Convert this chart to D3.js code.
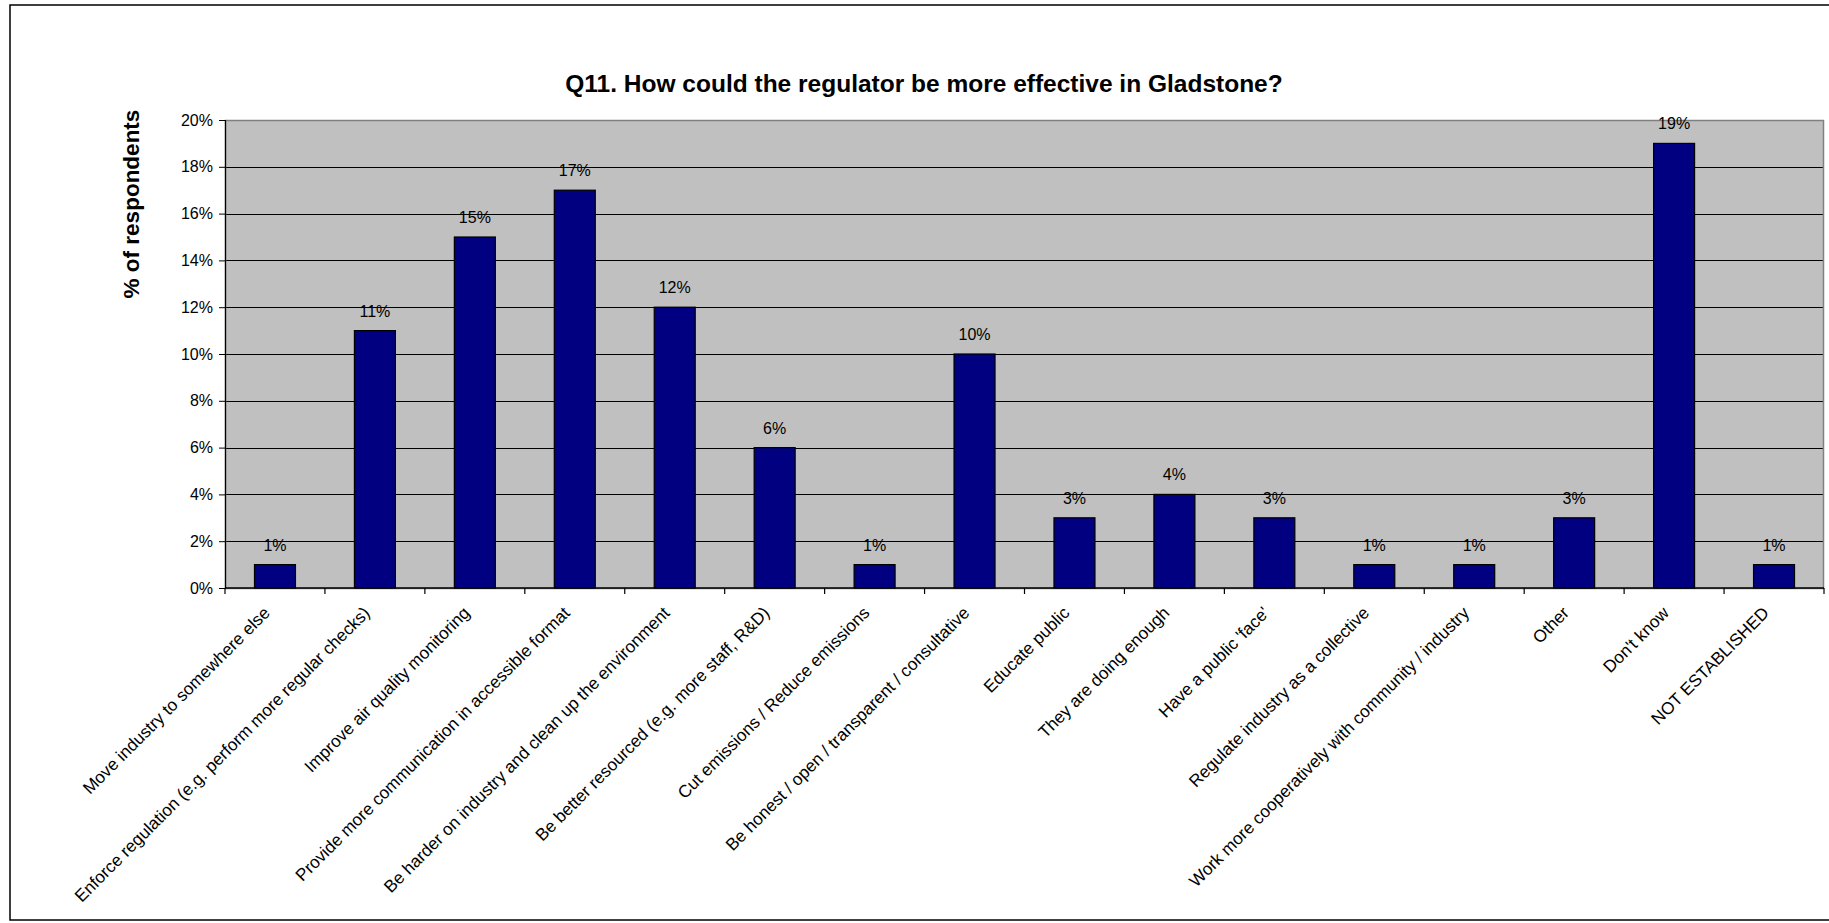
<!DOCTYPE html>
<html>
<head>
<meta charset="utf-8">
<script src="https://cdn.jsdelivr.net/npm/d3@7"></script>
<style>
html,body{margin:0;padding:0;background:#fff;}
svg{display:block;font-family:"Liberation Sans",Arial,sans-serif;}
</style>
</head>
<body>
<svg id="chart" width="1829" height="923"></svg>
<script>
const categories = [
  "Move industry to somewhere else",
  "Enforce regulation (e.g. perform more regular checks)",
  "Improve air quality monitoring",
  "Provide more communication in accessible format",
  "Be harder on industry and clean up the environment",
  "Be better resourced (e.g. more staff, R&D)",
  "Cut emissions / Reduce emissions",
  "Be honest / open / transparent / consultative",
  "Educate public",
  "They are doing enough",
  "Have a public 'face'",
  "Regulate industry as a collective",
  "Work more cooperatively with community / industry",
  "Other",
  "Don't know",
  "NOT ESTABLISHED"
];
const values = [1, 11, 15, 17, 12, 6, 1, 10, 3, 4, 3, 1, 1, 3, 19, 1];
const yTicks = [0, 2, 4, 6, 8, 10, 12, 14, 16, 18, 20];
const titleText = "Q11. How could the regulator be more effective in Gladstone?";
const yTitle = "% of respondents";

const svg = d3.select("#chart");
const W = 1829, H = 923;
const plot = {left: 225, right: 1824, top: 120, bottom: 588};

// outer border
svg.append("rect").attr("x", 10).attr("y", 5).attr("width", W + 20).attr("height", 915)
  .attr("fill", "#fff").attr("stroke", "#000").attr("stroke-width", 1.5);

const x = d3.scaleBand().domain(categories).range([plot.left, plot.right]).paddingInner(0.59).paddingOuter(0.295);
const xb = d3.scaleBand().domain(categories).range([plot.left, plot.right]);
const y = d3.scaleLinear().domain([0, 20]).range([plot.bottom, plot.top]);

// plot background
svg.append("rect").attr("x", plot.left).attr("y", plot.top)
  .attr("width", plot.right - plot.left).attr("height", plot.bottom - plot.top)
  .attr("fill", "#c0c0c0");

// gridlines
svg.append("g").selectAll("line").data(yTicks.filter(d => d > 0 && d < 20)).join("line")
  .attr("x1", plot.left).attr("x2", plot.right)
  .attr("y1", d => Math.round(y(d)) + 0.5).attr("y2", d => Math.round(y(d)) + 0.5)
  .attr("stroke", "#000").attr("stroke-width", 1);

// plot border
svg.append("rect").attr("x", plot.left + 0.5).attr("y", plot.top + 0.5)
  .attr("width", plot.right - plot.left - 1).attr("height", plot.bottom - plot.top)
  .attr("fill", "none").attr("stroke", "#808080").attr("stroke-width", 1.5);

// bars
svg.append("g").selectAll("rect").data(values).join("rect")
  .attr("x", (d, i) => x(categories[i]))
  .attr("width", x.bandwidth())
  .attr("y", d => y(d))
  .attr("height", d => y(0) - y(d))
  .attr("fill", "#000080").attr("stroke", "#000").attr("stroke-width", 1.2);

// data labels
svg.append("g").selectAll("text").data(values).join("text")
  .attr("x", (d, i) => xb(categories[i]) + xb.bandwidth() / 2)
  .attr("y", d => y(d) - 14)
  .attr("text-anchor", "middle")
  .attr("font-size", 16).attr("fill", "#000")
  .text(d => d + "%");

// y axis
const yAxis = d3.axisLeft(y).tickValues(yTicks).tickFormat(d => d + "%").tickSize(6).tickPadding(6);
const gy = svg.append("g").attr("transform", `translate(${plot.left},0)`).call(yAxis);
gy.select(".domain").attr("stroke", "#000").attr("stroke-width", 1.2);
gy.selectAll(".tick line").attr("stroke", "#000");
gy.selectAll("text").attr("font-size", 16).attr("font-family", "Liberation Sans, Arial, sans-serif").attr("fill", "#000");

// x axis (ticks at band boundaries)
svg.append("line").attr("x1", plot.left).attr("x2", plot.right)
  .attr("y1", plot.bottom).attr("y2", plot.bottom).attr("stroke", "#000").attr("stroke-width", 1.5);
const boundaries = categories.map(c => xb(c)).concat([plot.right]);
svg.append("g").selectAll("line").data(boundaries).join("line")
  .attr("x1", d => d).attr("x2", d => d)
  .attr("y1", plot.bottom).attr("y2", plot.bottom + 6)
  .attr("stroke", "#000").attr("stroke-width", 1.2);

// x labels
svg.append("g").selectAll("text").data(categories).join("text")
  .attr("transform", c => `translate(${xb(c) + xb.bandwidth() / 2 - 4},${614}) rotate(-45)`)
  .attr("text-anchor", "end")
  .attr("font-size", 17.2).attr("fill", "#000")
  .text(c => c);

// title
svg.append("text").attr("x", 924).attr("y", 92).attr("text-anchor", "middle")
  .attr("font-size", 24.5).attr("font-weight", "bold").attr("fill", "#000")
  .text(titleText);

// y title
svg.append("text").attr("transform", "translate(139,204) rotate(-90)")
  .attr("text-anchor", "middle")
  .attr("font-size", 22.5).attr("font-weight", "bold").attr("fill", "#000")
  .text(yTitle);
</script>
</body>
</html>
